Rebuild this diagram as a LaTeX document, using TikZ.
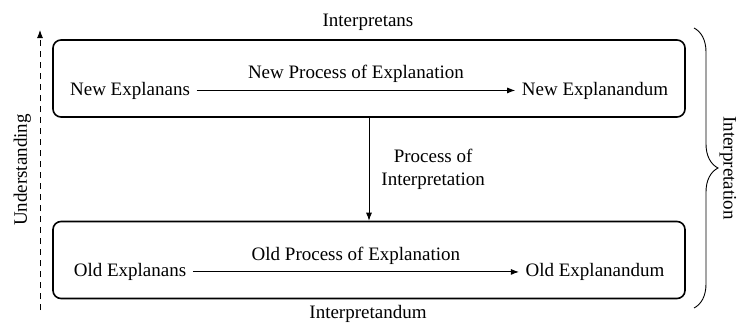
\documentclass[tikz,border=0pt]{standalone}
\usepackage{fontspec}
\setmainfont{Liberation Serif}
\usetikzlibrary{arrows.meta,decorations.pathreplacing}

\tikzset{
  txt/.style={font=\fontsize{19pt}{23pt}\selectfont, inner sep=0pt},
  stage/.style={draw, line width=1.6pt, rounded corners=8pt,
                minimum width=632pt, minimum height=77pt, inner sep=0pt},
  term/.style={txt, inner xsep=6.5pt, inner ysep=0pt},
  flow/.style={line width=0.9pt, -{Latex[length=8pt,width=6pt]}},
  progress/.style={line width=0.9pt, dash pattern=on 6pt off 5pt,
                   -{Latex[length=8pt,width=6pt]}},
  bracket/.style={line width=0.9pt, decorate,
                  decoration={brace, amplitude=24pt}}
}

\begin{document}
\begin{tikzpicture}[x=1pt, y=-1pt]
  \useasboundingbox (0,0) rectangle (739,327);

  % the two stages of explanation
  \node[stage] (newbox) at (369,78.5) {};
  \node[stage] (oldbox) at (369,260) {};

  % new stage
  \node[term, anchor=base] (newEs) at (130,95) {New Explanans};
  \node[term, anchor=base] (newEd) at (595,95) {New Explanandum};
  \draw[flow] (newEs) -- node[txt, midway, anchor=base, yshift=12pt]
      {New Process of Explanation} (newEd);

  % old stage
  \node[term, anchor=base] (oldEs) at (130,276.5) {Old Explanans};
  \node[term, anchor=base] (oldEd) at (595,276.5) {Old Explanandum};
  \draw[flow] (oldEs) -- node[txt, midway, anchor=base, yshift=11.5pt]
      {Old Process of Explanation} (oldEd);

  % interpretation links the stages
  \draw[flow] (newbox.south) -- node[txt, midway, anchor=west, xshift=12pt,
      align=center] {Process of\\Interpretation} (oldbox.north);

  \node[txt, anchor=base] (ipans) at (368,26) {Interpretans};
  \node[txt, anchor=base] (ipandum) at (368,318) {Interpretandum};

  % growth of understanding
  \coordinate (ubot) at (40,310);
  \coordinate (utop) at (40,30);
  \draw[progress] (ubot) -- (utop);
  \node[txt, anchor=base, rotate=90] (under) at (27,170) {Understanding};

  % interpretation brace
  \coordinate (btop) at (694,28);
  \coordinate (bbot) at (694,308);
  \draw[bracket] (btop) -- (bbot);
  \node[txt, anchor=base, rotate=-90] (interp) at (723.5,168) {Interpretation};
\end{tikzpicture}
\end{document}
